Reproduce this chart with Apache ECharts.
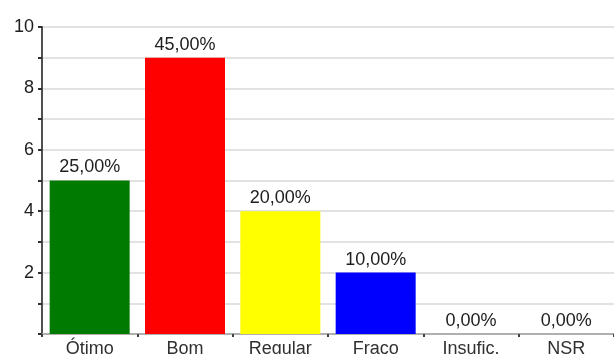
<!DOCTYPE html>
<html>
<head>
<meta charset="utf-8">
<script src="https://cdn.jsdelivr.net/npm/echarts@6/dist/echarts.min.js"></script>
<style>
  html, body { margin: 0; padding: 0; background: #fff; }
  #chart { width: 614px; height: 354px; }
</style>
</head>
<body>
<div id="chart"></div>
<script>
// Evaluation categories and their counts
const categories = ['Ótimo', 'Bom', 'Regular', 'Fraco', 'Insufic.', 'NSR'];
const counts = [5, 9, 4, 2, 0, 0];
const percentLabels = ['25,00%', '45,00%', '20,00%', '10,00%', '0,00%', '0,00%'];
const barColors = ['#007a00', '#ff0000', '#ffff00', '#0000ff', '#808080', '#808080'];

const chart = echarts.init(document.getElementById('chart'));
chart.setOption({
  animation: false,
  textStyle: { fontFamily: 'Liberation Sans, Arial, sans-serif' },
  grid: { left: 42, right: 0, top: 27, bottom: 20, containLabel: false, outerBoundsMode: 'none' },
  xAxis: {
    type: 'category',
    data: categories,
    axisLine: { lineStyle: { color: '#b0b0b0', width: 2 } },
    axisTick: { show: true, length: 3, lineStyle: { color: '#404040', width: 2 } },
    axisLabel: { color: '#303030', fontSize: 18, margin: 6 }
  },
  yAxis: {
    type: 'value',
    min: 0,
    max: 10,
    interval: 1,
    axisLine: { show: true, lineStyle: { color: '#505050', width: 2 } },
    axisTick: { show: true, length: 4, lineStyle: { color: '#303030', width: 2 } },
    axisLabel: {
      color: '#202020',
      fontSize: 18,
      margin: 8,
      formatter: v => (v > 0 && v % 2 === 0) ? String(v) : ''
    },
    splitLine: { lineStyle: { color: '#e2e2e2', width: 2 } }
  },
  series: [{
    type: 'bar',
    data: counts.map((v, i) => ({ value: v, itemStyle: { color: barColors[i] } })),
    barWidth: 80,
    label: {
      show: true,
      position: 'top',
      distance: 4,
      color: '#202020',
      fontSize: 18,
      formatter: p => percentLabels[p.dataIndex]
    }
  }]
});
</script>
</body>
</html>
